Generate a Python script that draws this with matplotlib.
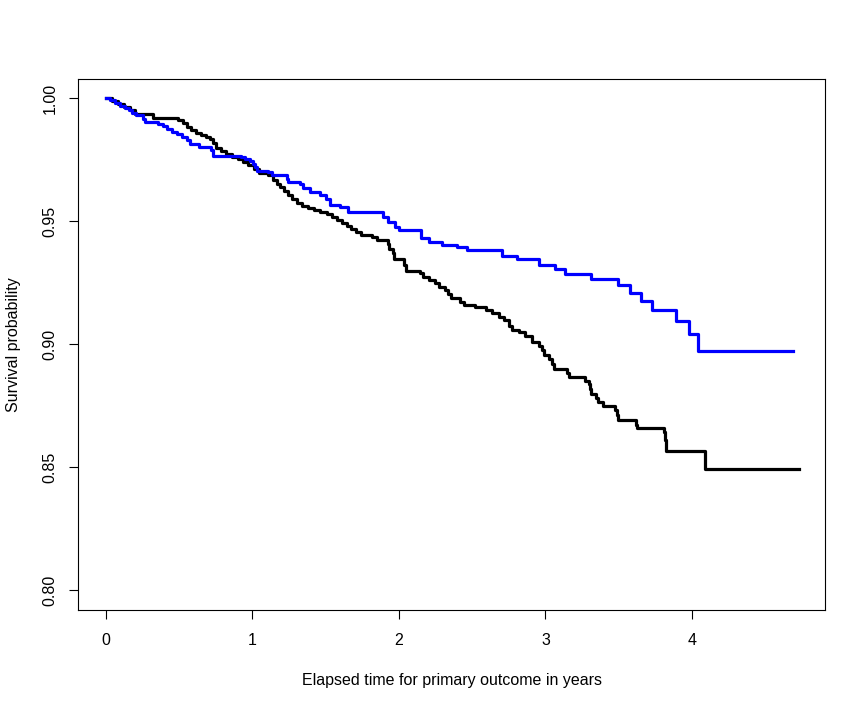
import numpy as np
import matplotlib
matplotlib.use('Agg')
import matplotlib.pyplot as plt

plt.rcParams['font.family'] = ['Liberation Sans', 'DejaVu Sans']

# Kaplan-Meier step curves: (time in years, survival after drop)
black_t = [0.0, 0.041, 0.082, 0.123, 0.164, 0.198, 0.322, 0.491, 0.525, 0.552, 0.579,
           0.613, 0.647, 0.681, 0.709, 0.729, 0.750, 0.784, 0.818, 0.859, 0.900,
           0.934, 0.968, 1.009, 1.043, 1.104, 1.138, 1.165, 1.186, 1.213, 1.240,
           1.267, 1.302, 1.336, 1.376, 1.417, 1.458, 1.506, 1.540, 1.574, 1.608,
           1.642, 1.670, 1.704, 1.738, 1.813, 1.847, 1.922, 1.935, 1.956, 1.969,
           2.037, 2.051, 2.146, 2.167, 2.208, 2.249, 2.276, 2.317, 2.337, 2.358,
           2.419, 2.446, 2.521, 2.596, 2.637, 2.685, 2.719, 2.753, 2.773, 2.821,
           2.862, 2.910, 2.957, 2.978, 2.991, 3.025, 3.046, 3.060, 3.148, 3.162,
           3.271, 3.298, 3.305, 3.312, 3.346, 3.359, 3.394, 3.475, 3.489, 3.496,
           3.618, 3.625, 3.809, 3.816, 3.823, 4.090, 4.730]
black_s = [1.0, 0.9988, 0.9976, 0.9963, 0.9951, 0.9938, 0.9921, 0.9911, 0.9898, 0.9882, 0.9870,
           0.9858, 0.9850, 0.9841, 0.9833, 0.9817, 0.9797, 0.9785, 0.9772, 0.9760, 0.9752,
           0.9740, 0.9728, 0.9711, 0.9695, 0.9687, 0.9667, 0.9650, 0.9638, 0.9622, 0.9606,
           0.9589, 0.9573, 0.9561, 0.9553, 0.9545, 0.9537, 0.9528, 0.9516, 0.9504, 0.9492,
           0.9480, 0.9467, 0.9455, 0.9443, 0.9435, 0.9423, 0.9407, 0.9386, 0.9370, 0.9346,
           0.9321, 0.9297, 0.9289, 0.9272, 0.9260, 0.9248, 0.9232, 0.9220, 0.9203, 0.9187,
           0.9171, 0.9159, 0.9152, 0.9138, 0.9126, 0.9110, 0.9098, 0.9073, 0.9057, 0.9049,
           0.9033, 0.9008, 0.8991, 0.8976, 0.8955, 0.8939, 0.8919, 0.8900, 0.8882, 0.8866,
           0.8850, 0.8837, 0.8817, 0.8797, 0.8780, 0.8764, 0.8748, 0.8732, 0.8711, 0.8691,
           0.8671, 0.8659, 0.8642, 0.8610, 0.8565, 0.8491, 0.8491]

blue_t = [0.0, 0.027, 0.061, 0.095, 0.129, 0.157, 0.177, 0.204, 0.252, 0.266, 0.354,
          0.388, 0.416, 0.450, 0.484, 0.518, 0.552, 0.572, 0.634, 0.716, 0.729,
          0.920, 0.947, 0.981, 1.002, 1.015, 1.029, 1.104, 1.131, 1.233, 1.240,
          1.322, 1.342, 1.390, 1.458, 1.499, 1.526, 1.595, 1.649, 1.888, 1.928,
          1.976, 2.003, 2.147, 2.153, 2.208, 2.296, 2.399, 2.467, 2.705, 2.808,
          2.957, 3.066, 3.135, 3.312, 3.496, 3.578, 3.653, 3.727, 3.891, 3.983,
          4.041, 4.687]
blue_s = [1.0, 0.9992, 0.9980, 0.9967, 0.9959, 0.9951, 0.9939, 0.9931, 0.9917, 0.9904, 0.9896,
          0.9886, 0.9874, 0.9862, 0.9854, 0.9841, 0.9829, 0.9813, 0.9801, 0.9789, 0.9766,
          0.9760, 0.9752, 0.9744, 0.9732, 0.9720, 0.9705, 0.9699, 0.9687, 0.9673, 0.9661,
          0.9650, 0.9634, 0.9620, 0.9606, 0.9589, 0.9565, 0.9557, 0.9538, 0.9518, 0.9498,
          0.9478, 0.9463, 0.9443, 0.9430, 0.9416, 0.9402, 0.9396, 0.9382, 0.9358, 0.9348,
          0.9321, 0.9305, 0.9287, 0.9264, 0.9240, 0.9209, 0.9175, 0.9138, 0.9095, 0.9041,
          0.8974, 0.8974]

x_ticks = [0, 1, 2, 3, 4]
y_ticks = [0.80, 0.85, 0.90, 0.95, 1.00]

fig = plt.figure(figsize=(8.66, 7.08), dpi=100)
ax = fig.add_axes([78 / 866, 1 - 610 / 708, (825 - 78) / 866, (610 - 79) / 708])

ax.step(black_t, black_s, where='post', color='black', linewidth=2.3)
ax.step(blue_t, blue_s, where='post', color='blue', linewidth=2.3)

ax.set_xlim(-0.191, 4.908)
ax.set_ylim(0.7919, 1.00785)
ax.set_xticks(x_ticks)
ax.set_xticklabels([str(v) for v in x_ticks])
ax.set_yticks(y_ticks)
ax.set_yticklabels(['%.2f' % v for v in y_ticks], rotation=90, va='center')
ax.tick_params(direction='out', length=6.5, width=0.8, labelsize=11.5)
ax.tick_params(axis='x', pad=10)
ax.tick_params(axis='y', pad=8)
for sp in ax.spines.values():
    sp.set_linewidth(0.8)

ax.set_xlabel('Elapsed time for primary outcome in years', fontsize=11.5, labelpad=18)
ax.set_ylabel('Survival probability', fontsize=11.5, labelpad=16)

fig.savefig('out.png', dpi=100)
